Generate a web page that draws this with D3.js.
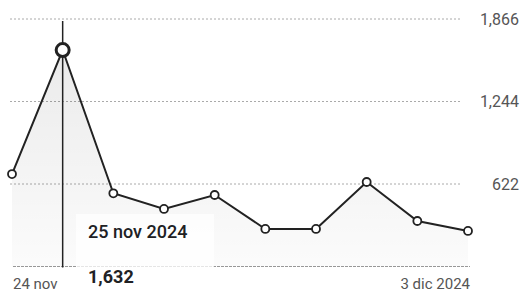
<!DOCTYPE html>
<html>
<head>
<meta charset="utf-8">
<script src="https://cdn.jsdelivr.net/npm/d3@7"></script>
<style>
  html, body { margin: 0; padding: 0; background: #fff; overflow: hidden; }
  svg { display: block; font-family: Roboto, "Noto Sans", sans-serif; }
</style>
</head>
<body>
<svg id="chart" width="523" height="293"></svg>
<script>
//*************************1. Data
const dates = ["24 nov", "25 nov", "26 nov", "27 nov", "28 nov", "29 nov", "30 nov", "1 dic", "2 dic", "3 dic"];
const values = [697, 1632, 552, 434, 539, 283, 283, 637, 343, 268];
const yTicks = [622, 1244, 1866];
const yTickLabels = ["622", "1,244", "1,866"];
const xLabels = ["24 nov", "3 dic 2024"];
const hoverIndex = 1;
const hoverTitle = "25 nov 2024";
const hoverValue = "1,632";

//*************************2. Canvas
const svg = d3.select("#chart");

//*************************3. Scales
const x = d3.scalePoint().domain(dates).range([12, 468]);
const y = d3.scaleLinear().domain([0, 1866]).range([266.5, 19]);

const data = dates.map((d, i) => ({date: d, value: values[i]}));

//*************************4. Gradient for area
const defs = svg.append("defs");
const grad = defs.append("linearGradient")
  .attr("id", "areaGrad").attr("x1", 0).attr("y1", 0).attr("x2", 0).attr("y2", 1);
grad.append("stop").attr("offset", "0%").attr("stop-color", "#000").attr("stop-opacity", 0.08);
grad.append("stop").attr("offset", "100%").attr("stop-color", "#000").attr("stop-opacity", 0.015);

//*************************5. Grid
svg.append("g")
  .selectAll("line")
  .data(yTicks)
  .join("line")
  .attr("x1", 10).attr("x2", 462)
  .attr("y1", d => y(d)).attr("y2", d => y(d))
  .attr("stroke", "#aaa")
  .attr("stroke-width", 1)
  .attr("stroke-dasharray", "2,2");

// baseline
svg.append("line")
  .attr("x1", 13).attr("x2", 470)
  .attr("y1", y(0)).attr("y2", y(0))
  .attr("stroke", "#999")
  .attr("stroke-width", 1)
  .attr("stroke-dasharray", "3,1");

svg.append("g")
  .selectAll("text")
  .data(yTicks)
  .join("text")
  .attr("x", 519)
  .attr("y", d => y(d))
  .attr("dy", "0.35em")
  .attr("text-anchor", "end")
  .attr("font-size", 16)
  .attr("fill", "#555")
  .text((d, i) => yTickLabels[i]);

//*************************6. Area + line
svg.append("path")
  .datum(data)
  .attr("fill", "url(#areaGrad)")
  .attr("d", d3.area().x(d => x(d.date)).y0(y(0)).y1(d => y(d.value)));

// crosshair
svg.append("line")
  .attr("x1", x(dates[hoverIndex])).attr("x2", x(dates[hoverIndex]))
  .attr("y1", y(1866) + 2).attr("y2", y(0) + 1)
  .attr("stroke", "#222")
  .attr("stroke-width", 1.5);

svg.append("path")
  .datum(data)
  .attr("fill", "none")
  .attr("stroke", "#222")
  .attr("stroke-width", 2)
  .attr("d", d3.line().x(d => x(d.date)).y(d => y(d.value)));

svg.append("g")
  .selectAll("circle")
  .data(data)
  .join("circle")
  .attr("cx", d => x(d.date))
  .attr("cy", d => y(d.value))
  .attr("r", (d, i) => i === hoverIndex ? 6.5 : 4)
  .attr("fill", "#fff")
  .attr("stroke", "#222")
  .attr("stroke-width", (d, i) => i === hoverIndex ? 3 : 1.8);

//*************************7. X labels
svg.append("text")
  .attr("x", x(dates[0]) + 1).attr("y", 289)
  .attr("font-size", 15).attr("fill", "#555")
  .text(xLabels[0]);

svg.append("text")
  .attr("x", x(dates[dates.length - 1]) + 2).attr("y", 289)
  .attr("text-anchor", "end")
  .attr("font-size", 15).attr("fill", "#555")
  .text(xLabels[1]);

//*************************8. Tooltip
const tip = svg.append("g");
tip.append("rect")
  .attr("x", 76).attr("y", 214).attr("width", 138).attr("height", 79)
  .attr("fill", "#fff").attr("fill-opacity", 0.75);
tip.append("text")
  .attr("x", 88).attr("y", 238)
  .attr("font-size", 18).attr("font-weight", 500).attr("fill", "#202124")
  .text(hoverTitle);
tip.append("text")
  .attr("x", 88).attr("y", 283)
  .attr("font-size", 18).attr("font-weight", 700).attr("fill", "#202124")
  .text(hoverValue);
</script>
</body>
</html>
